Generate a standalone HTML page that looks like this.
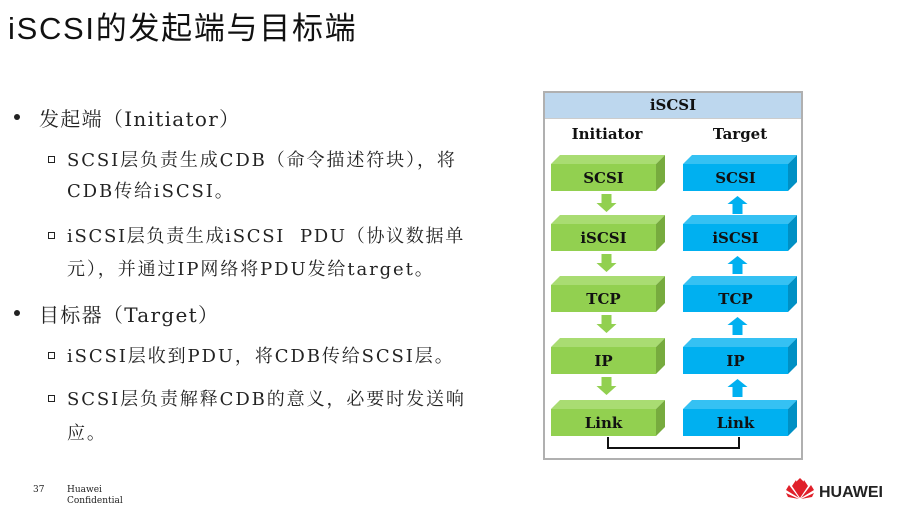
<!DOCTYPE html>
<html><head><meta charset="utf-8"><style>
body{margin:0;width:900px;height:513px;background:#fff;position:relative;overflow:hidden;font-family:"DejaVu Serif","Noto Serif CJK SC",serif;color:#222}
.t{position:absolute;white-space:nowrap}
.title{left:8px;top:3px;font-size:31px;letter-spacing:1.7px;font-family:"Liberation Sans","Noto Sans CJK SC",sans-serif;color:#111}
.l1{font-size:20px;left:39px;letter-spacing:1.3px}
.l2{font-size:18px;left:67px;letter-spacing:1.9px}
.dot{position:absolute;left:14px;width:6px;height:6px;border-radius:50%;background:#222}
.sq{position:absolute;left:48px;width:5px;height:5px;border:1.5px solid #222}
</style></head><body>
<div class="t title">iSCSI的发起端与目标端</div>
<div class="dot" style="top:114px"></div><div class="t l1" style="top:103px">发起端（Initiator）</div>
<div class="sq" style="top:156px"></div><div class="t l2" style="top:146px">SCSI层负责生成CDB（命令描述符块），将</div>
<div class="t l2" style="top:177px">CDB传给iSCSI。</div>
<div class="sq" style="top:232px"></div><div class="t l2" style="top:222px;letter-spacing:1.7px">iSCSI层负责生成iSCSI&nbsp; PDU（协议数据单</div>
<div class="t l2" style="top:255px">元），并通过IP网络将PDU发给target。</div>
<div class="dot" style="top:310px"></div><div class="t l1" style="top:299px">目标器（Target）</div>
<div class="sq" style="top:352px"></div><div class="t l2" style="top:342px">iSCSI层收到PDU，将CDB传给SCSI层。</div>
<div class="sq" style="top:395px"></div><div class="t l2" style="top:385px">SCSI层负责解释CDB的意义，必要时发送响</div>
<div class="t l2" style="top:419px">应。</div>
<div class="t" style="left:33px;top:485px;font-size:9px">37</div>
<div class="t" style="left:67px;top:485px;font-size:9px;line-height:11px">Huawei<br>Confidential</div>
<svg width="900" height="513" style="position:absolute;left:0;top:0">
<rect x="544" y="92" width="258" height="367" fill="#fff" stroke="#b0b0b0" stroke-width="2"/>
<rect x="545" y="93" width="256" height="25" fill="#bdd7ee"/>
<line x1="545" y1="118.5" x2="801" y2="118.5" stroke="#ccc"/>
<g font-family="DejaVu Serif,serif" font-weight="bold" text-anchor="middle" fill="#111">
<text x="673" y="110" font-size="15">iSCSI</text>
<text x="607" y="139" font-size="15">Initiator</text>
<text x="740" y="139" font-size="15">Target</text>
</g>
<g id="boxes" font-family="DejaVu Serif,serif" font-weight="bold" font-size="15" text-anchor="middle" fill="#111">
</g>
<path d="M608 437 V448 H739 V437" fill="none" stroke="#111" stroke-width="2"/>
<g transform="translate(786,478)">
<path d="M14 20 L6 8 L10 2 Z M14 20 L10 4 L14 0 Z M14 20 L18 4 L14 0 Z M14 20 L22 8 L18 2 Z M13 20 L0 12 L3 7 Z M15 20 L28 12 L25 7 Z M13 21 L2 19 L0 15 Z M15 21 L26 19 L28 15Z" fill="#e0202a"/>
</g>
<text x="819" y="497" font-family="Liberation Sans,sans-serif" font-weight="bold" font-size="16" fill="#222">HUAWEI</text>
</svg>
<script>
var g=document.getElementById('boxes'),ns='http://www.w3.org/2000/svg';
var rows=[164,224,285,347,409],lab=['SCSI','iSCSI','TCP','IP','Link'];
function el(t,a){var e=document.createElementNS(ns,t);for(var k in a)e.setAttribute(k,a[k]);g.appendChild(e);return e}
rows.forEach(function(y,i){
 [[551,'#92d050','#a9dc72','#77ab3e'],[683,'#00b0f0','#35c1f3','#0090c4']].forEach(function(c,j){
  var x=c[0],w=105,h=27,d=9;
  el('polygon',{points:(x)+','+y+' '+(x+d)+','+(y-d)+' '+(x+w+d)+','+(y-d)+' '+(x+w)+','+y,fill:c[2]});
  el('polygon',{points:(x+w)+','+y+' '+(x+w+d)+','+(y-d)+' '+(x+w+d)+','+(y+h-d)+' '+(x+w)+','+(y+h),fill:c[3]});
  el('rect',{x:x,y:y,width:w,height:h,fill:c[1]});
  var t=el('text',{x:x+w/2,y:y+19});t.textContent=lab[i];
  if(i<4){var ay=y+h+3,cx=x+w/2+(j?2:3);
   if(j==0) el('polygon',{points:(cx-5)+','+ay+' '+(cx+5)+','+ay+' '+(cx+5)+','+(ay+9)+' '+(cx+10)+','+(ay+9)+' '+cx+','+(ay+18)+' '+(cx-10)+','+(ay+9)+' '+(cx-5)+','+(ay+9),fill:'#92d050'});
   else el('polygon',{points:(cx-5)+','+(ay+20)+' '+(cx+5)+','+(ay+20)+' '+(cx+5)+','+(ay+10)+' '+(cx+10)+','+(ay+10)+' '+cx+','+(ay+2)+' '+(cx-10)+','+(ay+10)+' '+(cx-5)+','+(ay+10),fill:'#00b0f0'});
  }
 });
});
</script>
</body></html>
